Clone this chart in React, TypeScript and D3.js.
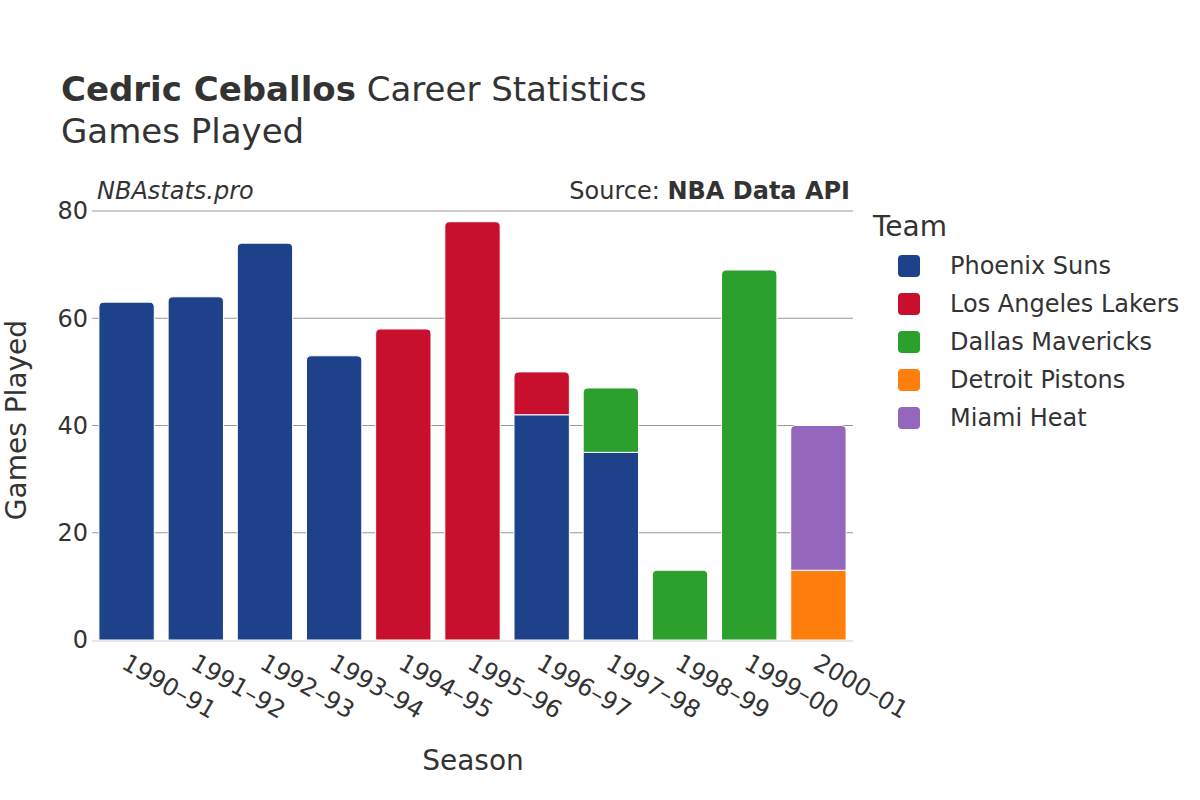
import React from "react";
import * as d3 from "d3";

const seasons = ["1990–91","1991–92","1992–93","1993–94","1994–95","1995–96","1996–97","1997–98","1998–99","1999–00","2000–01"];
const teams = ["Phoenix Suns","Los Angeles Lakers","Dallas Mavericks","Detroit Pistons","Miami Heat"];
const teamColors = ["#1d428a","#c8102e","#2ca02c","#ff7f0e","#9467bd"];
const suns = [63,64,74,53,0,0,42,35,0,0,0];
const lakers = [0,0,0,0,58,78,8,0,0,0,0];
const mavs = [0,0,0,0,0,0,0,12,13,69,0];
const pistons = [0,0,0,0,0,0,0,0,0,0,13];
const heat = [0,0,0,0,0,0,0,0,0,0,27];
const seriesValues = [suns, lakers, mavs, pistons, heat];
const yTicks = [0,20,40,60,80];

const FONT = "'DejaVu Sans', sans-serif";

function roundedTop(x: number, y: number, w: number, h: number, r: number) {
  const rr = Math.min(r, h / 2, w / 2);
  return `M${x},${y + h}V${y + rr}Q${x},${y} ${x + rr},${y}H${x + w - rr}Q${x + w},${y} ${x + w},${y + rr}V${y + h}Z`;
}

export default function App() {
  const W = 1200, H = 800;
  const left = 92, right = 853, top = 211, bottom = 640;
  const x = d3.scaleBand<string>().domain(seasons).range([left, right]).paddingInner(0.2).paddingOuter(0.1);
  const y = d3.scaleLinear().domain([0, 80]).range([bottom, top]);

  const bars: React.ReactNode[] = [];
  seasons.forEach((s, i) => {
    let acc = 0;
    let lastIdx = -1;
    seriesValues.forEach((vals, k) => { if (vals[i] > 0) lastIdx = k; });
    seriesValues.forEach((vals, k) => {
      const v = vals[i];
      if (v <= 0) return;
      const y0 = y(acc), y1 = y(acc + v);
      acc += v;
      const bx = x(s)!, bw = x.bandwidth();
      const d = k === lastIdx
        ? roundedTop(bx, y1, bw, y0 - y1, 5)
        : `M${bx},${y0}V${y1}H${bx + bw}V${y0}Z`;
      bars.push(<path key={`${i}-${k}`} d={d} fill={teamColors[k]} stroke="#fff" strokeWidth={1} />);
    });
  });

  return (
    <svg width={W} height={H} style={{ display: "block", position: "absolute", left: 0, top: 0, fontFamily: FONT }}>
      <rect width={W} height={H} fill="#fff" />
      <text x={61} y={101} fontSize={34} fill="#333">
        <tspan fontWeight="bold">Cedric Ceballos</tspan> Career Statistics
      </text>
      <text x={61} y={143} fontSize={34} fill="#333">Games Played</text>

      {yTicks.filter(t => t > 0).map(t => (
        <line key={t} x1={left} x2={right} y1={y(t)} y2={y(t)} stroke="#999" strokeWidth={1} />
      ))}
      {bars}
      <line x1={left} x2={right} y1={bottom + 1} y2={bottom + 1} stroke="#e8e8e8" strokeWidth={2} />

      {yTicks.map(t => (
        <text key={t} x={88} y={y(t)} dy="0.35em" textAnchor="end" fontSize={24} fill="#333">{t}</text>
      ))}
      {seasons.map(s => {
        const cx = x(s)! + x.bandwidth() / 2;
        return (
          <text key={s} transform={`translate(${cx + 2},${653}) rotate(30)`} dy="0.7em" fontSize={24} fill="#333">{s}</text>
        );
      })}

      <text x={97} y={199} fontSize={24} fontStyle="italic" fill="#333">NBAstats.pro</text>
      <text x={850} y={199} fontSize={24} textAnchor="end" fill="#333">
        Source: <tspan fontWeight="bold">NBA Data API</tspan>
      </text>

      <text transform={`translate(26,420) rotate(-90)`} textAnchor="middle" fontSize={28} fill="#333">Games Played</text>
      <text x={473} y={770} textAnchor="middle" fontSize={28} fill="#333">Season</text>

      <text x={873} y={236} fontSize={28} fill="#333">Team</text>
      {teams.map((t, i) => (
        <g key={t} transform={`translate(0,${266 + i * 38})`}>
          <rect x={898} y={-11} width={22} height={22} rx={4} fill={teamColors[i]} />
          <text x={950} y={0} dy="0.35em" fontSize={24} fill="#333">{t}</text>
        </g>
      ))}
    </svg>
  );
}
